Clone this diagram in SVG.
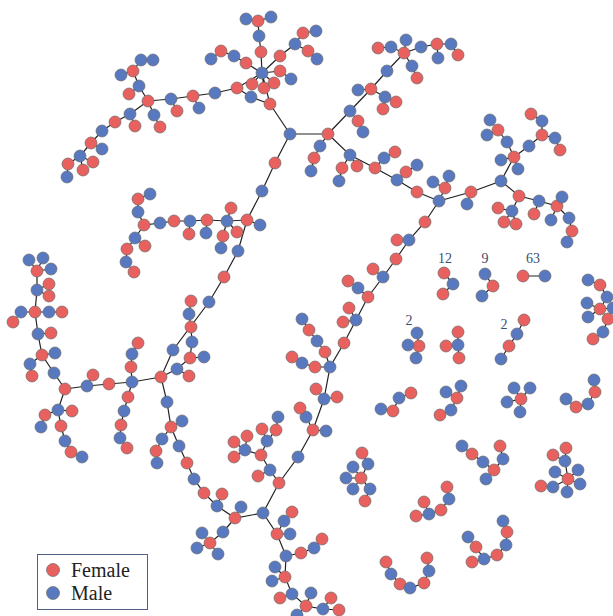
<svg xmlns="http://www.w3.org/2000/svg" width="613" height="616" viewBox="0 0 613 616">
<style>
  .edges path{fill:none;stroke:#222;stroke-width:1.2}
  circle{stroke:#6a6a6a;stroke-width:0.7}
  .f circle{fill:#e8615f}
  .m circle{fill:#5878bf}
  .num{font-family:"Liberation Serif","Times New Roman",serif;font-size:14px;fill:#3e4c70;text-anchor:middle}
  .lg{font-family:"Liberation Serif","Times New Roman",serif;font-size:20px;fill:#222}
</style>
<rect width="613" height="616" fill="#fff"/>
<g id="connectors" class="edges">
<path d="M133 71L141 60L153 60M121 75L133 71L139 86L148 101M139 86L129 94M148 101L171 99L193 96L215 93L237 88L262 73M171 99L177 111M193 96L199 108M148 101L130 114L115 122L102 131L91 143L80 156L68 164L67 177M130 114L135 126M148 101L154 115L160 127M91 143L102 149M80 156L83 170M80 156L93 162"/>
<path d="M237 88L251 97L270 104L262 73M262 73L252 84M262 73L264 88M262 73L274 83M262 73L280 71L291 79M262 73L261 52L259 36L258 21L246 19M258 21L271 17M262 73L246 63L234 56L221 51L211 59M262 73L280 56L295 44L303 33L316 31M295 44L308 51L317 59M270 104L290 134L328 134"/>
<path d="M290 134L275 163L262 191L247 220L238 251L224 277L209 302L173 350L161 377L167 402L171 427L179 446L187 463L194 479L204 493L217 506L235 518L263 513L279 483L298 457L313 430L324 399L330 367L344 343L356 320L368 297L383 277L396 259L409 240L425 222L439 201L471 192L501 181L514 157"/>
<path d="M150 194L138 199L138 212L144 225L160 223L174 221L190 221L207 220L227 221L247 220L260 225M190 221L189 234M207 220L206 233M227 221L231 208M227 221L223 236L221 248M227 221L237 232M144 225L135 238L127 249L126 262L134 272M135 238L145 246"/>
<path d="M191 301L189 314L191 327L192 342L190 358L177 369L161 377M190 358L204 357M177 369L189 376"/>
<path d="M161 377L132 382L109 384L87 386L65 389M87 386L93 375M132 382L131 367L132 354L138 343M132 382L128 397L124 411L121 425L120 438L127 448"/>
<path d="M65 389L54 373L42 355L38 334L35 312L37 290L37 271L29 260M37 271L43 258M37 271L51 269M37 290L49 284M37 290L49 296M35 312L21 312L13 322M35 312L49 312L62 312M38 334L51 333M42 355L55 353M42 355L30 364L32 376M65 389L58 410L45 415L41 427M58 410L72 411M58 410L61 426L65 441L71 452L82 457"/>
<path d="M171 427L182 421M171 427L162 439L156 451L157 463M217 506L222 494M235 518L241 507M235 518L223 532L210 543L202 533M210 543L197 548M210 543L218 554M313 430L326 431M313 430L306 417L300 408"/>
<path d="M279 483L270 470L261 455L267 441L276 430L278 417M267 441L262 429M270 470L258 476M261 455L245 450L247 436M245 450L234 442M245 450L234 457"/>
<path d="M263 513L277 534L286 556L285 577L292 594L306 606L323 609L331 598M323 609L339 610M277 534L284 521L292 512M277 534L290 534M286 556L301 553L314 548L322 539M285 577L275 567M285 577L272 581M292 594L280 598M306 606L311 593M306 606L297 615"/>
<path d="M324 399L316 389M324 399L337 397M330 367L315 367L302 363L292 357M330 367L325 352L317 341L309 330L302 319M356 320L349 308M356 320L343 322M368 297L358 288L348 281M383 277L373 269M409 240L397 240"/>
<path d="M328 134L350 111L371 89L387 71L404 53L421 47L437 44L451 44L458 55M437 44L438 58M404 53L391 47L378 48M404 53L406 40M404 53L412 66L417 78M371 89L358 90M371 89L385 97L383 109M385 97L396 102M350 111L358 121L363 132M328 134L320 146L314 158L311 171M328 134L350 155L342 168L339 181M350 155L357 166M350 155L375 168L384 158L395 152M375 168L397 180L417 192L439 201M397 180L406 172L417 165M439 201L445 188L433 182M445 188L449 176M471 192L467 204"/>
<path d="M514 157L529 146L542 135L542 121L531 114M542 135L555 138L560 150M514 157L507 142L498 130L490 120M498 130L487 135M514 157L501 160M514 157L518 169M501 181L519 196L539 201L557 206L562 197M519 196L512 211L498 208M512 211L504 222M512 211L516 224M539 201L534 214M557 206L551 220M557 206L569 218L572 231L567 242"/>
<path d="M444 273L453 284L443 294M485 274L493 286L482 296M523 276L545 276M588 280L600 285L607 297L600 309L587 303M600 309L588 317M600 309L608 319L603 332L593 339M600 309L613 308M419 346L417 333M419 346L408 345M419 346L416 358M458 345L458 332M458 345L446 346M458 345L459 358M524 320L517 334L509 346L501 359"/>
<path d="M381 409L393 411L399 398L411 393M461 386L457 398L446 392M457 398L451 410L440 415M521 399L514 388M521 399L530 388M521 399L507 402M521 399L520 412M594 380L595 392L588 404L576 407L566 399"/>
<path d="M361 478L368 464L362 453M361 478L353 467M361 478L346 478M361 478L353 489M361 478L370 489L365 501M462 446L472 454L483 462L494 470L503 459L500 446M494 470L486 479M568 479L565 461L566 448M565 461L553 455M568 479L555 472M568 479L578 470M568 479L580 484M568 479L567 492M568 479L553 487L541 486M447 487L449 499L441 510L429 514L424 502M429 514L416 516M503 521L507 532L506 545L497 555L484 559L472 562M484 559L476 547L468 537M386 562L391 574L400 584L410 588L424 583L429 571L427 558"/>
</g>
<g id="nodes">
<g id="n1" class="m"><circle cx="141" cy="60" r="6"/></g>
<g id="n2" class="m"><circle cx="153" cy="60" r="6"/></g>
<g id="n3" class="f"><circle cx="133" cy="71" r="6"/></g>
<g id="n4" class="m"><circle cx="121" cy="75" r="6"/></g>
<g id="n5" class="m"><circle cx="139" cy="86" r="6"/></g>
<g id="n6" class="f"><circle cx="129" cy="94" r="6"/></g>
<g id="n7" class="f"><circle cx="148" cy="101" r="6"/></g>
<g id="n8" class="m"><circle cx="171" cy="99" r="6"/></g>
<g id="n9" class="f"><circle cx="177" cy="111" r="6"/></g>
<g id="n10" class="f"><circle cx="193" cy="96" r="6"/></g>
<g id="n11" class="m"><circle cx="199" cy="108" r="6"/></g>
<g id="n12" class="m"><circle cx="130" cy="114" r="6"/></g>
<g id="n13" class="f"><circle cx="135" cy="126" r="6"/></g>
<g id="n14" class="m"><circle cx="154" cy="115" r="6"/></g>
<g id="n15" class="f"><circle cx="160" cy="127" r="6"/></g>
<g id="n16" class="f"><circle cx="115" cy="122" r="6"/></g>
<g id="n17" class="m"><circle cx="102" cy="131" r="6"/></g>
<g id="n18" class="f"><circle cx="91" cy="143" r="6"/></g>
<g id="n19" class="m"><circle cx="102" cy="149" r="6"/></g>
<g id="n20" class="m"><circle cx="80" cy="156" r="6"/></g>
<g id="n21" class="f"><circle cx="68" cy="164" r="6"/></g>
<g id="n22" class="m"><circle cx="67" cy="177" r="6"/></g>
<g id="n23" class="f"><circle cx="83" cy="170" r="6"/></g>
<g id="n24" class="f"><circle cx="93" cy="162" r="6"/></g>
<g id="n25" class="m"><circle cx="215" cy="93" r="6"/></g>
<g id="n26" class="f"><circle cx="237" cy="88" r="6"/></g>
<g id="n27" class="m"><circle cx="251" cy="97" r="6"/></g>
<g id="n28" class="f"><circle cx="270" cy="104" r="6"/></g>
<g id="n29" class="m"><circle cx="262" cy="73" r="6"/></g>
<g id="n30" class="f"><circle cx="252" cy="84" r="6"/></g>
<g id="n31" class="f"><circle cx="264" cy="88" r="6"/></g>
<g id="n32" class="f"><circle cx="274" cy="83" r="6"/></g>
<g id="n33" class="f"><circle cx="280" cy="71" r="6"/></g>
<g id="n34" class="m"><circle cx="291" cy="79" r="6"/></g>
<g id="n35" class="f"><circle cx="261" cy="52" r="6"/></g>
<g id="n36" class="m"><circle cx="259" cy="36" r="6"/></g>
<g id="n37" class="f"><circle cx="258" cy="21" r="6"/></g>
<g id="n38" class="m"><circle cx="246" cy="19" r="6"/></g>
<g id="n39" class="m"><circle cx="271" cy="17" r="6"/></g>
<g id="n40" class="f"><circle cx="246" cy="63" r="6"/></g>
<g id="n41" class="m"><circle cx="234" cy="56" r="6"/></g>
<g id="n42" class="f"><circle cx="221" cy="51" r="6"/></g>
<g id="n43" class="m"><circle cx="211" cy="59" r="6"/></g>
<g id="n44" class="f"><circle cx="280" cy="56" r="6"/></g>
<g id="n45" class="m"><circle cx="295" cy="44" r="6"/></g>
<g id="n46" class="f"><circle cx="303" cy="33" r="6"/></g>
<g id="n47" class="m"><circle cx="316" cy="31" r="6"/></g>
<g id="n48" class="f"><circle cx="308" cy="51" r="6"/></g>
<g id="n49" class="m"><circle cx="317" cy="59" r="6"/></g>
<g id="n50" class="m"><circle cx="290" cy="134" r="6"/></g>
<g id="n51" class="f"><circle cx="328" cy="134" r="6"/></g>
<g id="n52" class="f"><circle cx="275" cy="163" r="6"/></g>
<g id="n53" class="m"><circle cx="262" cy="191" r="6"/></g>
<g id="n54" class="f"><circle cx="247" cy="220" r="6"/></g>
<g id="n55" class="m"><circle cx="260" cy="225" r="6"/></g>
<g id="n56" class="m"><circle cx="238" cy="251" r="6"/></g>
<g id="n57" class="f"><circle cx="224" cy="277" r="6"/></g>
<g id="n58" class="m"><circle cx="209" cy="302" r="6"/></g>
<g id="n59" class="m"><circle cx="173" cy="350" r="6"/></g>
<g id="n60" class="f"><circle cx="161" cy="377" r="6"/></g>
<g id="n61" class="m"><circle cx="150" cy="194" r="6"/></g>
<g id="n62" class="f"><circle cx="138" cy="199" r="6"/></g>
<g id="n63" class="m"><circle cx="138" cy="212" r="6"/></g>
<g id="n64" class="f"><circle cx="144" cy="225" r="6"/></g>
<g id="n65" class="m"><circle cx="160" cy="223" r="6"/></g>
<g id="n66" class="f"><circle cx="174" cy="221" r="6"/></g>
<g id="n67" class="m"><circle cx="190" cy="221" r="6"/></g>
<g id="n68" class="f"><circle cx="189" cy="234" r="6"/></g>
<g id="n69" class="f"><circle cx="207" cy="220" r="6"/></g>
<g id="n70" class="m"><circle cx="206" cy="233" r="6"/></g>
<g id="n71" class="m"><circle cx="227" cy="221" r="6"/></g>
<g id="n72" class="f"><circle cx="231" cy="208" r="6"/></g>
<g id="n73" class="f"><circle cx="223" cy="236" r="6"/></g>
<g id="n74" class="m"><circle cx="221" cy="248" r="6"/></g>
<g id="n75" class="f"><circle cx="237" cy="232" r="6"/></g>
<g id="n76" class="m"><circle cx="135" cy="238" r="6"/></g>
<g id="n77" class="f"><circle cx="145" cy="246" r="6"/></g>
<g id="n78" class="f"><circle cx="127" cy="249" r="6"/></g>
<g id="n79" class="m"><circle cx="126" cy="262" r="6"/></g>
<g id="n80" class="f"><circle cx="134" cy="272" r="6"/></g>
<g id="n81" class="f"><circle cx="191" cy="301" r="6"/></g>
<g id="n82" class="m"><circle cx="189" cy="314" r="6"/></g>
<g id="n83" class="f"><circle cx="191" cy="327" r="6"/></g>
<g id="n84" class="m"><circle cx="192" cy="342" r="6"/></g>
<g id="n85" class="f"><circle cx="190" cy="358" r="6"/></g>
<g id="n86" class="m"><circle cx="204" cy="357" r="6"/></g>
<g id="n87" class="m"><circle cx="177" cy="369" r="6"/></g>
<g id="n88" class="f"><circle cx="189" cy="376" r="6"/></g>
<g id="n89" class="m"><circle cx="132" cy="382" r="6"/></g>
<g id="n90" class="f"><circle cx="109" cy="384" r="6"/></g>
<g id="n91" class="m"><circle cx="87" cy="386" r="6"/></g>
<g id="n92" class="f"><circle cx="93" cy="375" r="6"/></g>
<g id="n93" class="f"><circle cx="65" cy="389" r="6"/></g>
<g id="n94" class="f"><circle cx="131" cy="367" r="6"/></g>
<g id="n95" class="m"><circle cx="132" cy="354" r="6"/></g>
<g id="n96" class="f"><circle cx="138" cy="343" r="6"/></g>
<g id="n97" class="f"><circle cx="128" cy="397" r="6"/></g>
<g id="n98" class="m"><circle cx="124" cy="411" r="6"/></g>
<g id="n99" class="f"><circle cx="121" cy="425" r="6"/></g>
<g id="n100" class="m"><circle cx="120" cy="438" r="6"/></g>
<g id="n101" class="f"><circle cx="127" cy="448" r="6"/></g>
<g id="n102" class="m"><circle cx="54" cy="373" r="6"/></g>
<g id="n103" class="f"><circle cx="42" cy="355" r="6"/></g>
<g id="n104" class="m"><circle cx="55" cy="353" r="6"/></g>
<g id="n105" class="m"><circle cx="30" cy="364" r="6"/></g>
<g id="n106" class="f"><circle cx="32" cy="376" r="6"/></g>
<g id="n107" class="m"><circle cx="38" cy="334" r="6"/></g>
<g id="n108" class="f"><circle cx="51" cy="333" r="6"/></g>
<g id="n109" class="f"><circle cx="35" cy="312" r="6"/></g>
<g id="n110" class="m"><circle cx="21" cy="312" r="6"/></g>
<g id="n111" class="f"><circle cx="13" cy="322" r="6"/></g>
<g id="n112" class="m"><circle cx="49" cy="312" r="6"/></g>
<g id="n113" class="f"><circle cx="62" cy="312" r="6"/></g>
<g id="n114" class="m"><circle cx="37" cy="290" r="6"/></g>
<g id="n115" class="f"><circle cx="49" cy="284" r="6"/></g>
<g id="n116" class="f"><circle cx="49" cy="296" r="6"/></g>
<g id="n117" class="f"><circle cx="37" cy="271" r="6"/></g>
<g id="n118" class="m"><circle cx="29" cy="260" r="6"/></g>
<g id="n119" class="m"><circle cx="43" cy="258" r="6"/></g>
<g id="n120" class="m"><circle cx="51" cy="269" r="6"/></g>
<g id="n121" class="m"><circle cx="58" cy="410" r="6"/></g>
<g id="n122" class="f"><circle cx="45" cy="415" r="6"/></g>
<g id="n123" class="m"><circle cx="41" cy="427" r="6"/></g>
<g id="n124" class="f"><circle cx="72" cy="411" r="6"/></g>
<g id="n125" class="f"><circle cx="61" cy="426" r="6"/></g>
<g id="n126" class="m"><circle cx="65" cy="441" r="6"/></g>
<g id="n127" class="f"><circle cx="71" cy="452" r="6"/></g>
<g id="n128" class="m"><circle cx="82" cy="457" r="6"/></g>
<g id="n129" class="m"><circle cx="167" cy="402" r="6"/></g>
<g id="n130" class="f"><circle cx="171" cy="427" r="6"/></g>
<g id="n131" class="m"><circle cx="182" cy="421" r="6"/></g>
<g id="n132" class="m"><circle cx="162" cy="439" r="6"/></g>
<g id="n133" class="f"><circle cx="156" cy="451" r="6"/></g>
<g id="n134" class="m"><circle cx="157" cy="463" r="6"/></g>
<g id="n135" class="m"><circle cx="179" cy="446" r="6"/></g>
<g id="n136" class="f"><circle cx="187" cy="463" r="6"/></g>
<g id="n137" class="m"><circle cx="194" cy="479" r="6"/></g>
<g id="n138" class="f"><circle cx="204" cy="493" r="6"/></g>
<g id="n139" class="m"><circle cx="217" cy="506" r="6"/></g>
<g id="n140" class="f"><circle cx="222" cy="494" r="6"/></g>
<g id="n141" class="f"><circle cx="235" cy="518" r="6"/></g>
<g id="n142" class="m"><circle cx="241" cy="507" r="6"/></g>
<g id="n143" class="m"><circle cx="223" cy="532" r="6"/></g>
<g id="n144" class="f"><circle cx="210" cy="543" r="6"/></g>
<g id="n145" class="m"><circle cx="202" cy="533" r="6"/></g>
<g id="n146" class="m"><circle cx="197" cy="548" r="6"/></g>
<g id="n147" class="m"><circle cx="218" cy="554" r="6"/></g>
<g id="n148" class="m"><circle cx="263" cy="513" r="6"/></g>
<g id="n149" class="f"><circle cx="279" cy="483" r="6"/></g>
<g id="n150" class="m"><circle cx="298" cy="457" r="6"/></g>
<g id="n151" class="f"><circle cx="313" cy="430" r="6"/></g>
<g id="n152" class="m"><circle cx="326" cy="431" r="6"/></g>
<g id="n153" class="m"><circle cx="306" cy="417" r="6"/></g>
<g id="n154" class="f"><circle cx="300" cy="408" r="6"/></g>
<g id="n155" class="m"><circle cx="270" cy="470" r="6"/></g>
<g id="n156" class="f"><circle cx="258" cy="476" r="6"/></g>
<g id="n157" class="f"><circle cx="261" cy="455" r="6"/></g>
<g id="n158" class="m"><circle cx="267" cy="441" r="6"/></g>
<g id="n159" class="f"><circle cx="276" cy="430" r="6"/></g>
<g id="n160" class="m"><circle cx="278" cy="417" r="6"/></g>
<g id="n161" class="f"><circle cx="262" cy="429" r="6"/></g>
<g id="n162" class="m"><circle cx="245" cy="450" r="6"/></g>
<g id="n163" class="f"><circle cx="247" cy="436" r="6"/></g>
<g id="n164" class="f"><circle cx="234" cy="442" r="6"/></g>
<g id="n165" class="f"><circle cx="234" cy="457" r="6"/></g>
<g id="n166" class="f"><circle cx="277" cy="534" r="6"/></g>
<g id="n167" class="m"><circle cx="284" cy="521" r="6"/></g>
<g id="n168" class="f"><circle cx="292" cy="512" r="6"/></g>
<g id="n169" class="m"><circle cx="290" cy="534" r="6"/></g>
<g id="n170" class="m"><circle cx="286" cy="556" r="6"/></g>
<g id="n171" class="f"><circle cx="301" cy="553" r="6"/></g>
<g id="n172" class="m"><circle cx="314" cy="548" r="6"/></g>
<g id="n173" class="f"><circle cx="322" cy="539" r="6"/></g>
<g id="n174" class="f"><circle cx="285" cy="577" r="6"/></g>
<g id="n175" class="m"><circle cx="275" cy="567" r="6"/></g>
<g id="n176" class="m"><circle cx="272" cy="581" r="6"/></g>
<g id="n177" class="m"><circle cx="292" cy="594" r="6"/></g>
<g id="n178" class="f"><circle cx="280" cy="598" r="6"/></g>
<g id="n179" class="f"><circle cx="306" cy="606" r="6"/></g>
<g id="n180" class="m"><circle cx="311" cy="593" r="6"/></g>
<g id="n181" class="m"><circle cx="297" cy="615" r="6"/></g>
<g id="n182" class="m"><circle cx="323" cy="609" r="6"/></g>
<g id="n183" class="f"><circle cx="331" cy="598" r="6"/></g>
<g id="n184" class="f"><circle cx="339" cy="610" r="6"/></g>
<g id="n185" class="m"><circle cx="324" cy="399" r="6"/></g>
<g id="n186" class="f"><circle cx="316" cy="389" r="6"/></g>
<g id="n187" class="f"><circle cx="337" cy="397" r="6"/></g>
<g id="n188" class="m"><circle cx="330" cy="367" r="6"/></g>
<g id="n189" class="f"><circle cx="315" cy="367" r="6"/></g>
<g id="n190" class="m"><circle cx="302" cy="363" r="6"/></g>
<g id="n191" class="f"><circle cx="292" cy="357" r="6"/></g>
<g id="n192" class="f"><circle cx="325" cy="352" r="6"/></g>
<g id="n193" class="m"><circle cx="317" cy="341" r="6"/></g>
<g id="n194" class="f"><circle cx="309" cy="330" r="6"/></g>
<g id="n195" class="m"><circle cx="302" cy="319" r="6"/></g>
<g id="n196" class="f"><circle cx="344" cy="343" r="6"/></g>
<g id="n197" class="m"><circle cx="356" cy="320" r="6"/></g>
<g id="n198" class="f"><circle cx="349" cy="308" r="6"/></g>
<g id="n199" class="f"><circle cx="343" cy="322" r="6"/></g>
<g id="n200" class="f"><circle cx="368" cy="297" r="6"/></g>
<g id="n201" class="m"><circle cx="358" cy="288" r="6"/></g>
<g id="n202" class="f"><circle cx="348" cy="281" r="6"/></g>
<g id="n203" class="m"><circle cx="383" cy="277" r="6"/></g>
<g id="n204" class="f"><circle cx="373" cy="269" r="6"/></g>
<g id="n205" class="f"><circle cx="396" cy="259" r="6"/></g>
<g id="n206" class="m"><circle cx="409" cy="240" r="6"/></g>
<g id="n207" class="f"><circle cx="397" cy="240" r="6"/></g>
<g id="n208" class="f"><circle cx="425" cy="222" r="6"/></g>
<g id="n209" class="m"><circle cx="439" cy="201" r="6"/></g>
<g id="n210" class="m"><circle cx="350" cy="111" r="6"/></g>
<g id="n211" class="f"><circle cx="371" cy="89" r="6"/></g>
<g id="n212" class="m"><circle cx="358" cy="90" r="6"/></g>
<g id="n213" class="m"><circle cx="385" cy="97" r="6"/></g>
<g id="n214" class="f"><circle cx="383" cy="109" r="6"/></g>
<g id="n215" class="f"><circle cx="396" cy="102" r="6"/></g>
<g id="n216" class="f"><circle cx="358" cy="121" r="6"/></g>
<g id="n217" class="m"><circle cx="363" cy="132" r="6"/></g>
<g id="n218" class="m"><circle cx="387" cy="71" r="6"/></g>
<g id="n219" class="f"><circle cx="404" cy="53" r="6"/></g>
<g id="n220" class="m"><circle cx="391" cy="47" r="6"/></g>
<g id="n221" class="f"><circle cx="378" cy="48" r="6"/></g>
<g id="n222" class="m"><circle cx="406" cy="40" r="6"/></g>
<g id="n223" class="m"><circle cx="421" cy="47" r="6"/></g>
<g id="n224" class="f"><circle cx="437" cy="44" r="6"/></g>
<g id="n225" class="m"><circle cx="451" cy="44" r="6"/></g>
<g id="n226" class="f"><circle cx="458" cy="55" r="6"/></g>
<g id="n227" class="m"><circle cx="438" cy="58" r="6"/></g>
<g id="n228" class="m"><circle cx="412" cy="66" r="6"/></g>
<g id="n229" class="f"><circle cx="417" cy="78" r="6"/></g>
<g id="n230" class="m"><circle cx="320" cy="146" r="6"/></g>
<g id="n231" class="f"><circle cx="314" cy="158" r="6"/></g>
<g id="n232" class="m"><circle cx="311" cy="171" r="6"/></g>
<g id="n233" class="m"><circle cx="350" cy="155" r="6"/></g>
<g id="n234" class="f"><circle cx="342" cy="168" r="6"/></g>
<g id="n235" class="m"><circle cx="339" cy="181" r="6"/></g>
<g id="n236" class="f"><circle cx="357" cy="166" r="6"/></g>
<g id="n237" class="f"><circle cx="375" cy="168" r="6"/></g>
<g id="n238" class="m"><circle cx="384" cy="158" r="6"/></g>
<g id="n239" class="f"><circle cx="395" cy="152" r="6"/></g>
<g id="n240" class="m"><circle cx="397" cy="180" r="6"/></g>
<g id="n241" class="f"><circle cx="406" cy="172" r="6"/></g>
<g id="n242" class="m"><circle cx="417" cy="165" r="6"/></g>
<g id="n243" class="f"><circle cx="417" cy="192" r="6"/></g>
<g id="n244" class="f"><circle cx="445" cy="188" r="6"/></g>
<g id="n245" class="m"><circle cx="433" cy="182" r="6"/></g>
<g id="n246" class="m"><circle cx="449" cy="176" r="6"/></g>
<g id="n247" class="f"><circle cx="471" cy="192" r="6"/></g>
<g id="n248" class="m"><circle cx="467" cy="204" r="6"/></g>
<g id="n249" class="m"><circle cx="501" cy="181" r="6"/></g>
<g id="n250" class="f"><circle cx="514" cy="157" r="6"/></g>
<g id="n251" class="m"><circle cx="529" cy="146" r="6"/></g>
<g id="n252" class="f"><circle cx="542" cy="135" r="6"/></g>
<g id="n253" class="m"><circle cx="542" cy="121" r="6"/></g>
<g id="n254" class="f"><circle cx="531" cy="114" r="6"/></g>
<g id="n255" class="m"><circle cx="555" cy="138" r="6"/></g>
<g id="n256" class="f"><circle cx="560" cy="150" r="6"/></g>
<g id="n257" class="m"><circle cx="507" cy="142" r="6"/></g>
<g id="n258" class="f"><circle cx="498" cy="130" r="6"/></g>
<g id="n259" class="m"><circle cx="490" cy="120" r="6"/></g>
<g id="n260" class="m"><circle cx="487" cy="135" r="6"/></g>
<g id="n261" class="m"><circle cx="501" cy="160" r="6"/></g>
<g id="n262" class="m"><circle cx="518" cy="169" r="6"/></g>
<g id="n263" class="f"><circle cx="519" cy="196" r="6"/></g>
<g id="n264" class="m"><circle cx="539" cy="201" r="6"/></g>
<g id="n265" class="f"><circle cx="557" cy="206" r="6"/></g>
<g id="n266" class="m"><circle cx="562" cy="197" r="6"/></g>
<g id="n267" class="m"><circle cx="512" cy="211" r="6"/></g>
<g id="n268" class="f"><circle cx="498" cy="208" r="6"/></g>
<g id="n269" class="f"><circle cx="504" cy="222" r="6"/></g>
<g id="n270" class="f"><circle cx="516" cy="224" r="6"/></g>
<g id="n271" class="f"><circle cx="534" cy="214" r="6"/></g>
<g id="n272" class="m"><circle cx="551" cy="220" r="6"/></g>
<g id="n273" class="m"><circle cx="569" cy="218" r="6"/></g>
<g id="n274" class="f"><circle cx="572" cy="231" r="6"/></g>
<g id="n275" class="m"><circle cx="567" cy="242" r="6"/></g>
<g id="n276" class="f"><circle cx="444" cy="273" r="6"/></g>
<g id="n277" class="m"><circle cx="453" cy="284" r="6"/></g>
<g id="n278" class="f"><circle cx="443" cy="294" r="6"/></g>
<g id="n279" class="m"><circle cx="485" cy="274" r="6"/></g>
<g id="n280" class="f"><circle cx="493" cy="286" r="6"/></g>
<g id="n281" class="m"><circle cx="482" cy="296" r="6"/></g>
<g id="n282" class="f"><circle cx="523" cy="276" r="6"/></g>
<g id="n283" class="m"><circle cx="545" cy="276" r="6"/></g>
<g id="n284" class="m"><circle cx="588" cy="280" r="6"/></g>
<g id="n285" class="f"><circle cx="600" cy="285" r="6"/></g>
<g id="n286" class="m"><circle cx="607" cy="297" r="6"/></g>
<g id="n287" class="m"><circle cx="587" cy="303" r="6"/></g>
<g id="n288" class="f"><circle cx="600" cy="309" r="6"/></g>
<g id="n289" class="m"><circle cx="588" cy="317" r="6"/></g>
<g id="n290" class="f"><circle cx="608" cy="319" r="6"/></g>
<g id="n291" class="m"><circle cx="603" cy="332" r="6"/></g>
<g id="n292" class="f"><circle cx="593" cy="339" r="6"/></g>
<g id="n293" class="m"><circle cx="613" cy="308" r="6"/></g>
<g id="n294" class="m"><circle cx="417" cy="333" r="6"/></g>
<g id="n295" class="f"><circle cx="419" cy="346" r="6"/></g>
<g id="n296" class="m"><circle cx="408" cy="345" r="6"/></g>
<g id="n297" class="m"><circle cx="416" cy="358" r="6"/></g>
<g id="n298" class="f"><circle cx="458" cy="332" r="6"/></g>
<g id="n299" class="m"><circle cx="458" cy="345" r="6"/></g>
<g id="n300" class="f"><circle cx="446" cy="346" r="6"/></g>
<g id="n301" class="f"><circle cx="459" cy="358" r="6"/></g>
<g id="n302" class="f"><circle cx="524" cy="320" r="6"/></g>
<g id="n303" class="m"><circle cx="517" cy="334" r="6"/></g>
<g id="n304" class="f"><circle cx="509" cy="346" r="6"/></g>
<g id="n305" class="m"><circle cx="501" cy="359" r="6"/></g>
<g id="n306" class="m"><circle cx="381" cy="409" r="6"/></g>
<g id="n307" class="f"><circle cx="393" cy="411" r="6"/></g>
<g id="n308" class="m"><circle cx="399" cy="398" r="6"/></g>
<g id="n309" class="f"><circle cx="411" cy="393" r="6"/></g>
<g id="n310" class="m"><circle cx="461" cy="386" r="6"/></g>
<g id="n311" class="m"><circle cx="446" cy="392" r="6"/></g>
<g id="n312" class="f"><circle cx="457" cy="398" r="6"/></g>
<g id="n313" class="m"><circle cx="451" cy="410" r="6"/></g>
<g id="n314" class="f"><circle cx="440" cy="415" r="6"/></g>
<g id="n315" class="m"><circle cx="514" cy="388" r="6"/></g>
<g id="n316" class="m"><circle cx="530" cy="388" r="6"/></g>
<g id="n317" class="f"><circle cx="521" cy="399" r="6"/></g>
<g id="n318" class="m"><circle cx="507" cy="402" r="6"/></g>
<g id="n319" class="m"><circle cx="520" cy="412" r="6"/></g>
<g id="n320" class="m"><circle cx="594" cy="380" r="6"/></g>
<g id="n321" class="f"><circle cx="595" cy="392" r="6"/></g>
<g id="n322" class="m"><circle cx="588" cy="404" r="6"/></g>
<g id="n323" class="f"><circle cx="576" cy="407" r="6"/></g>
<g id="n324" class="m"><circle cx="566" cy="399" r="6"/></g>
<g id="n325" class="f"><circle cx="361" cy="478" r="6"/></g>
<g id="n326" class="f"><circle cx="362" cy="453" r="6"/></g>
<g id="n327" class="m"><circle cx="368" cy="464" r="6"/></g>
<g id="n328" class="m"><circle cx="353" cy="467" r="6"/></g>
<g id="n329" class="m"><circle cx="346" cy="478" r="6"/></g>
<g id="n330" class="m"><circle cx="353" cy="489" r="6"/></g>
<g id="n331" class="m"><circle cx="370" cy="489" r="6"/></g>
<g id="n332" class="f"><circle cx="365" cy="501" r="6"/></g>
<g id="n333" class="m"><circle cx="462" cy="446" r="6"/></g>
<g id="n334" class="f"><circle cx="472" cy="454" r="6"/></g>
<g id="n335" class="m"><circle cx="483" cy="462" r="6"/></g>
<g id="n336" class="f"><circle cx="494" cy="470" r="6"/></g>
<g id="n337" class="m"><circle cx="503" cy="459" r="6"/></g>
<g id="n338" class="f"><circle cx="500" cy="446" r="6"/></g>
<g id="n339" class="m"><circle cx="486" cy="479" r="6"/></g>
<g id="n340" class="f"><circle cx="568" cy="479" r="6"/></g>
<g id="n341" class="m"><circle cx="565" cy="461" r="6"/></g>
<g id="n342" class="f"><circle cx="566" cy="448" r="6"/></g>
<g id="n343" class="f"><circle cx="553" cy="455" r="6"/></g>
<g id="n344" class="m"><circle cx="555" cy="472" r="6"/></g>
<g id="n345" class="m"><circle cx="578" cy="470" r="6"/></g>
<g id="n346" class="m"><circle cx="580" cy="484" r="6"/></g>
<g id="n347" class="m"><circle cx="567" cy="492" r="6"/></g>
<g id="n348" class="m"><circle cx="553" cy="487" r="6"/></g>
<g id="n349" class="f"><circle cx="541" cy="486" r="6"/></g>
<g id="n350" class="f"><circle cx="447" cy="487" r="6"/></g>
<g id="n351" class="m"><circle cx="449" cy="499" r="6"/></g>
<g id="n352" class="f"><circle cx="441" cy="510" r="6"/></g>
<g id="n353" class="m"><circle cx="429" cy="514" r="6"/></g>
<g id="n354" class="f"><circle cx="424" cy="502" r="6"/></g>
<g id="n355" class="f"><circle cx="416" cy="516" r="6"/></g>
<g id="n356" class="m"><circle cx="503" cy="521" r="6"/></g>
<g id="n357" class="f"><circle cx="507" cy="532" r="6"/></g>
<g id="n358" class="m"><circle cx="506" cy="545" r="6"/></g>
<g id="n359" class="f"><circle cx="497" cy="555" r="6"/></g>
<g id="n360" class="m"><circle cx="484" cy="559" r="6"/></g>
<g id="n361" class="f"><circle cx="472" cy="562" r="6"/></g>
<g id="n362" class="f"><circle cx="476" cy="547" r="6"/></g>
<g id="n363" class="m"><circle cx="468" cy="537" r="6"/></g>
<g id="n364" class="f"><circle cx="386" cy="562" r="6"/></g>
<g id="n365" class="m"><circle cx="391" cy="574" r="6"/></g>
<g id="n366" class="f"><circle cx="400" cy="584" r="6"/></g>
<g id="n367" class="m"><circle cx="410" cy="588" r="6"/></g>
<g id="n368" class="f"><circle cx="424" cy="583" r="6"/></g>
<g id="n369" class="m"><circle cx="429" cy="571" r="6"/></g>
<g id="n370" class="f"><circle cx="427" cy="558" r="6"/></g>
</g>
<g id="counts">
<text class="num" x="445" y="263">12</text>
<text class="num" x="485" y="263">9</text>
<text class="num" x="533" y="263">63</text>
<text class="num" x="409" y="325">2</text>
<text class="num" x="504" y="329">2</text>
</g>
<g id="legend">
<rect x="37.5" y="554.5" width="110" height="55" fill="#fff" stroke="#4f5f85" stroke-width="1"/>
<g class="f"><circle cx="53" cy="570" r="6.5"/></g>
<g class="m"><circle cx="53" cy="593" r="6.5"/></g>
<text class="lg" x="71" y="577">Female</text>
<text class="lg" x="71" y="600">Male</text>
</g>
</svg>
